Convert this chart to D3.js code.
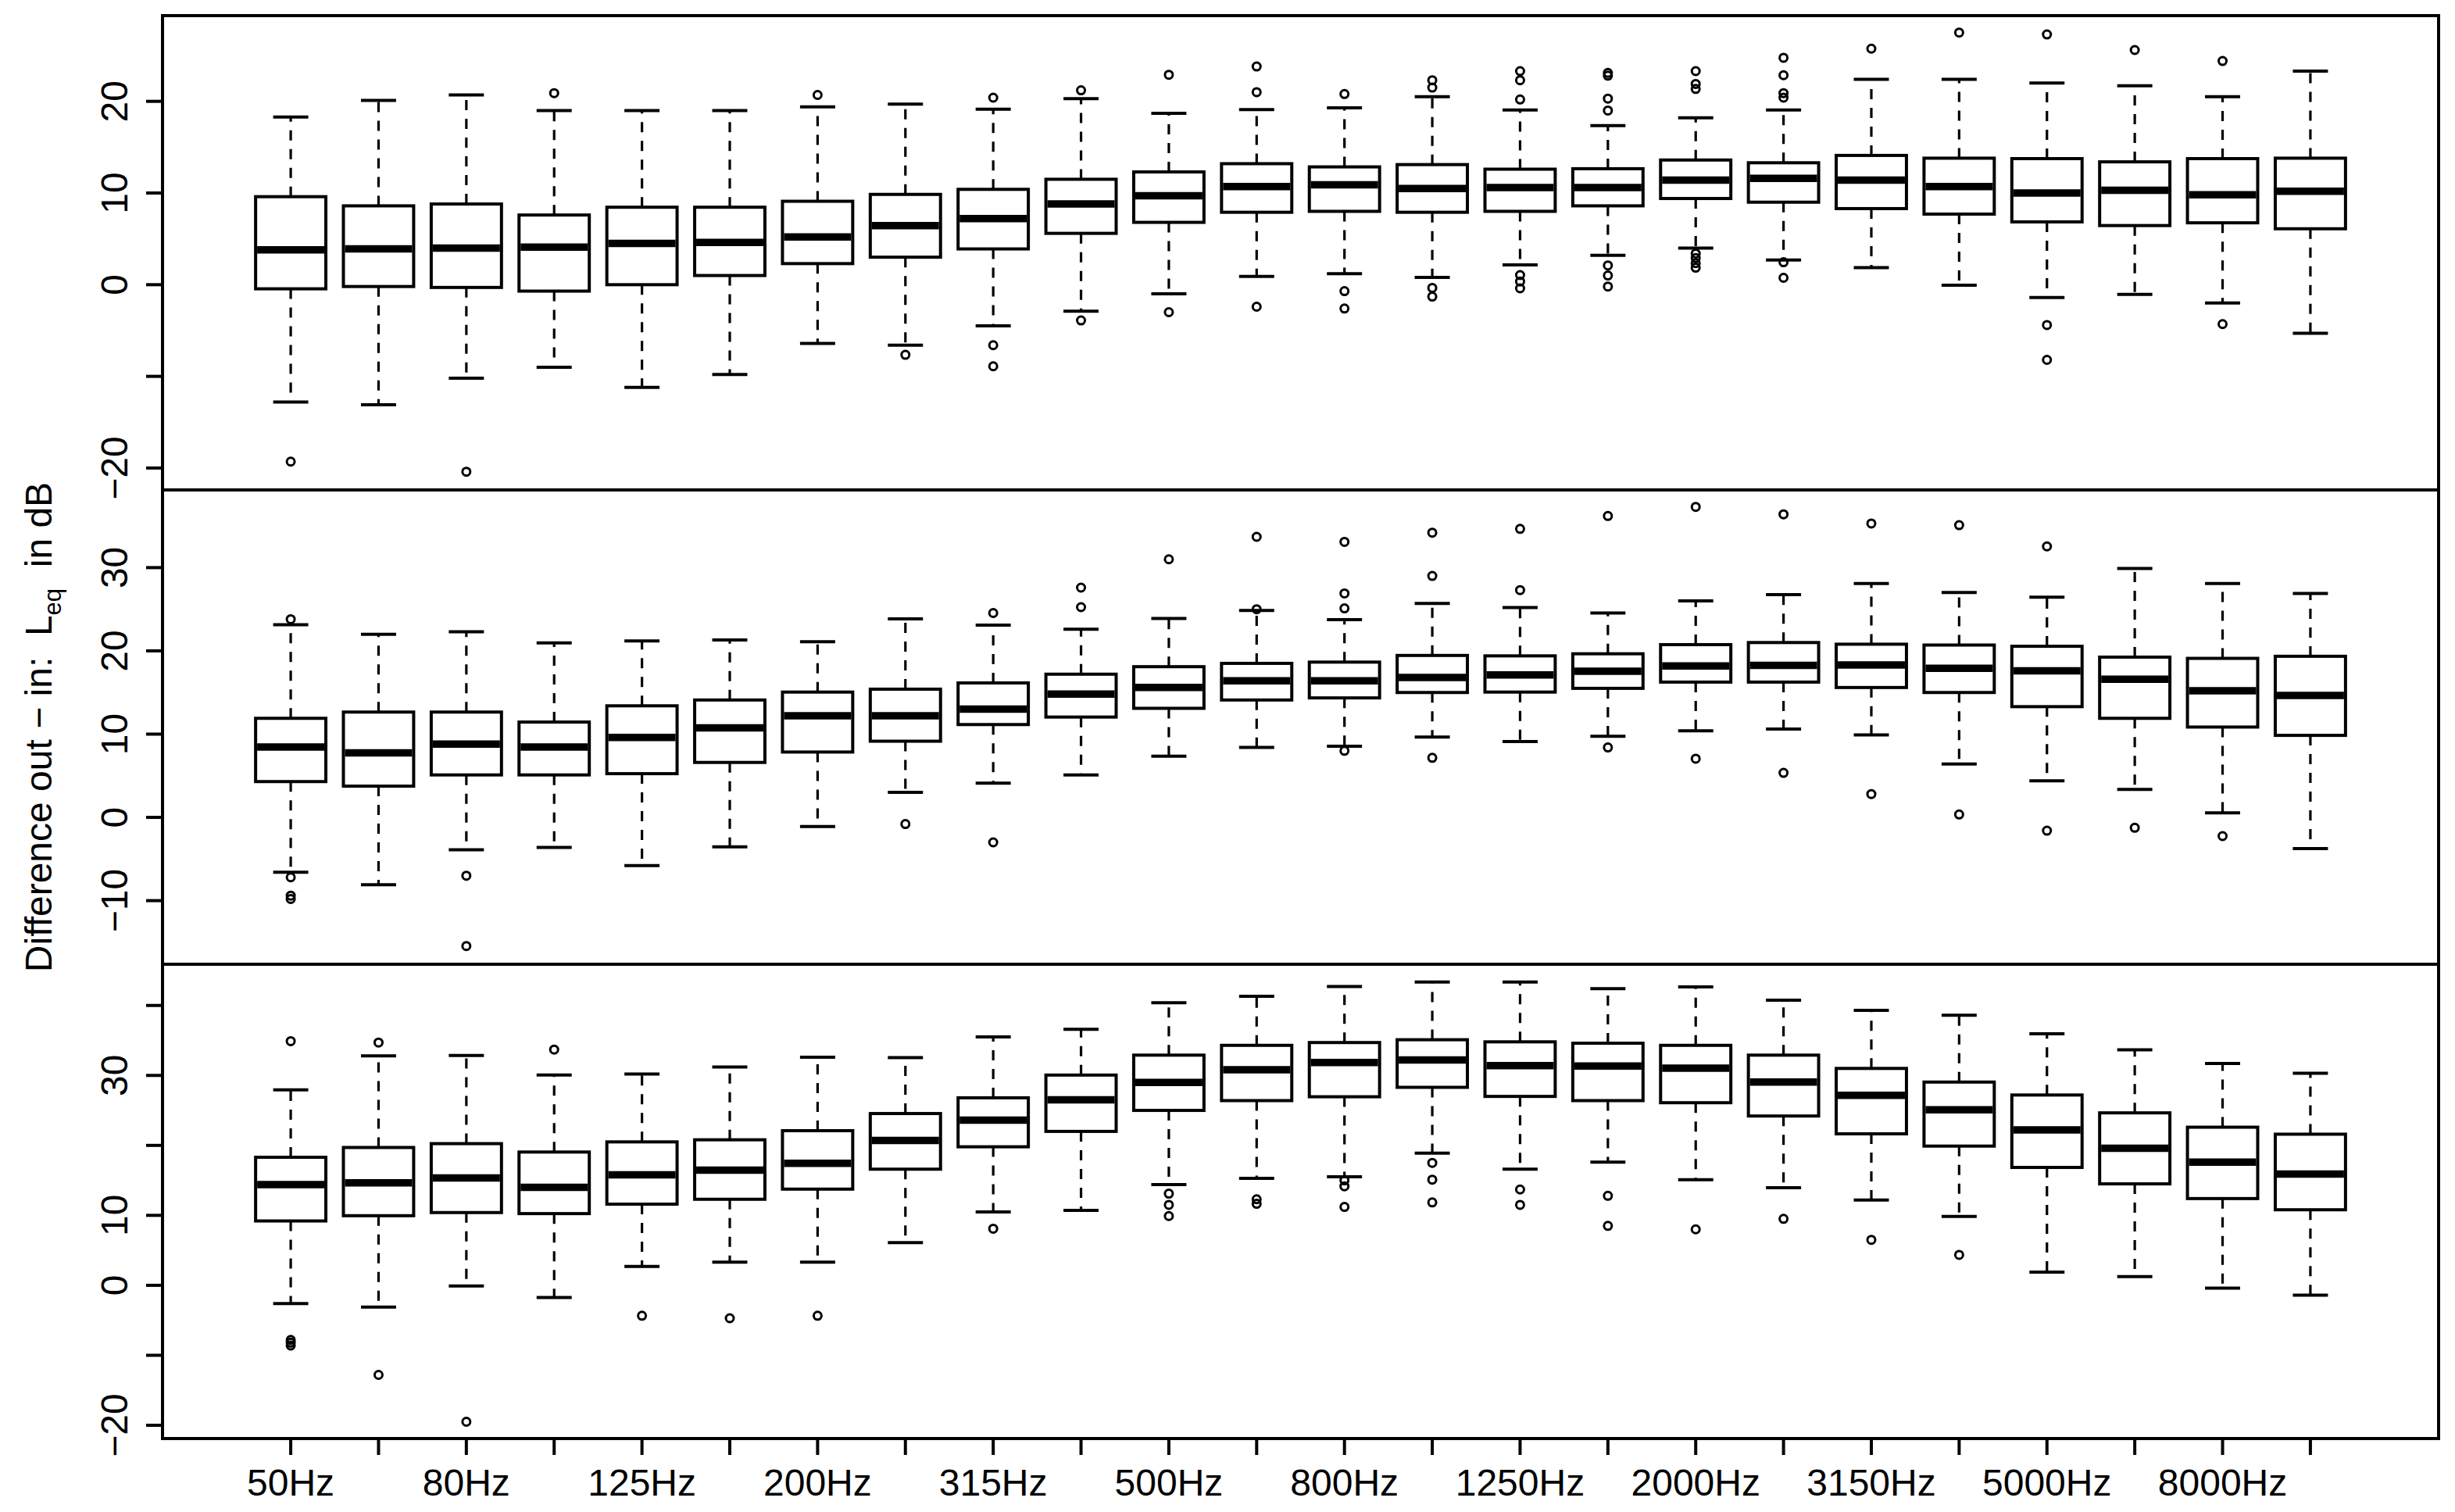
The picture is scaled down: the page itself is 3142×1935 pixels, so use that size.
<!DOCTYPE html>
<html>
<head>
<meta charset="utf-8">
<script src="https://cdn.jsdelivr.net/npm/d3@7"></script>
<style>
  html, body { margin: 0; padding: 0; background: #fff; }
  svg text { font-family: "Liberation Sans", Arial, Helvetica, sans-serif; fill: #000; }
</style>
</head>
<body>
<script>
// ---------- data ----------
const categories = ["50Hz","63Hz","80Hz","100Hz","125Hz","160Hz","200Hz","250Hz","315Hz","400Hz","500Hz","630Hz",
                    "800Hz","1000Hz","1250Hz","1600Hz","2000Hz","2500Hz","3150Hz","4000Hz","5000Hz","6300Hz","8000Hz","10000Hz"];
const xTickLabels = ["50Hz","","80Hz","","125Hz","","200Hz","","315Hz","","500Hz","","800Hz","","1250Hz","","2000Hz","","3150Hz","","5000Hz","","8000Hz",""];

// Panel 1 (top)
const lo1  = [-12.8,-13.1,-10.2,-9.0,-11.2,-9.8,-6.4,-6.6,-4.5,-2.9,-1.0,0.9,1.2,0.8,2.15,3.2,4.0,2.7,1.85,-0.05,-1.4,-1.05,-2.0,-5.3];
const q1_1 = [-0.45,-0.2,-0.3,-0.7,0.0,1.0,2.3,3.0,3.9,5.6,6.8,7.9,8.0,7.9,8.0,8.6,9.4,9.0,8.3,7.7,6.85,6.45,6.75,6.1];
const med1 = [3.8,3.9,4.0,4.1,4.5,4.6,5.2,6.45,7.2,8.8,9.7,10.7,10.9,10.5,10.6,10.6,11.4,11.6,11.4,10.7,10.0,10.3,9.8,10.2];
const q3_1 = [9.6,8.6,8.8,7.6,8.45,8.45,9.1,9.85,10.4,11.5,12.3,13.2,12.85,13.1,12.6,12.65,13.6,13.3,14.1,13.8,13.75,13.4,13.75,13.8];
const hi1  = [18.3,20.1,20.7,19.0,19.0,19.0,19.4,19.7,19.15,20.3,18.7,19.1,19.3,20.5,19.05,17.35,18.2,19.05,22.4,22.4,22.0,21.7,20.5,23.3];
const out1 = [[-19.3],[],[-20.4],[20.9],[],[],[20.7],[-7.65],[20.4,-6.6,-8.9],[21.2,-3.9],[22.9,-3.0],[23.8,21.0,-2.4],
              [20.8,-0.7,-2.6],[22.3,21.5,-0.35,-1.3],[23.3,22.3,20.2,1.05,0.35,-0.4],[23.1,22.8,20.3,19.0,2.1,1.0,-0.2],
              [23.3,21.9,21.35,3.4,2.9,2.35,1.85],[24.75,22.85,20.9,20.4,2.45,0.75],[25.75],[27.5],[27.3,-4.4,-8.2],[25.6],[24.4,-4.3],[]];

// Panel 2 (middle)
const lo2  = [-6.6,-8.1,-3.9,-3.6,-5.8,-3.55,-1.1,3.0,4.1,5.1,7.35,8.4,8.55,9.65,9.1,9.75,10.4,10.6,9.9,6.4,4.4,3.35,0.55,-3.75];
const q1_2 = [4.3,3.75,5.1,5.1,5.25,6.6,7.85,9.15,11.15,12.05,13.1,14.1,14.35,15.0,15.05,15.5,16.25,16.25,15.6,15.0,13.3,11.9,10.85,9.85];
const med2 = [8.45,7.75,8.8,8.45,9.6,10.75,12.2,12.2,13.0,14.8,15.6,16.4,16.4,16.8,17.1,17.55,18.2,18.25,18.3,17.9,17.6,16.6,15.2,14.65];
const q3_2 = [11.9,12.65,12.65,11.45,13.4,14.1,15.05,15.4,16.15,17.2,18.1,18.5,18.65,19.45,19.4,19.65,20.75,21.0,20.8,20.7,20.55,19.25,19.1,19.35];
const hi2  = [23.15,22.0,22.3,20.95,21.2,21.3,21.1,23.85,23.1,22.6,23.9,24.85,23.75,25.7,25.2,24.55,26.0,26.75,28.1,27.0,26.45,29.9,28.1,26.9];
const out2 = [[23.8,-7.2,-9.4,-9.8],[],[-7.0,-15.45],[],[],[],[],[-0.8],[24.55,-3.0],[27.6,25.25],[31.0],[33.7,25.0],
              [33.1,26.9,25.1,8.0],[34.2,29.0,7.15],[34.65,27.3],[36.2,8.4],[37.3,7.05],[36.4,5.35],[35.3,2.8],[35.1,0.35],[32.55,-1.6],[-1.25],[-2.25],[]];

// Panel 3 (bottom)
const lo3  = [-2.6,-3.1,-0.1,-1.75,2.7,3.3,3.3,6.1,10.5,10.7,14.4,15.3,15.5,18.9,16.6,17.6,15.1,13.95,12.2,9.85,1.9,1.25,-0.4,-1.4];
const q1_3 = [9.2,9.95,10.4,10.25,11.6,12.3,13.75,16.6,19.8,22.0,25.0,26.4,26.95,28.3,27.0,26.4,26.1,24.2,21.65,19.9,16.85,14.5,12.4,10.8];
const med3 = [14.4,14.65,15.35,14.0,15.8,16.45,17.45,20.7,23.6,26.5,29.0,30.8,31.85,32.2,31.4,31.35,31.05,29.05,27.15,25.1,22.2,19.6,17.6,15.9];
const q3_3 = [18.3,19.7,20.25,19.05,20.5,20.8,22.1,24.55,26.8,30.05,32.9,34.3,34.7,35.1,34.8,34.6,34.3,32.9,31.0,29.05,27.2,24.65,22.6,21.6];
const hi3  = [27.95,32.8,32.85,30.05,30.2,31.2,32.6,32.55,35.5,36.6,40.4,41.3,42.7,43.35,43.35,42.4,42.65,40.75,39.3,38.6,35.95,33.65,31.7,30.3];
const out3 = [[34.9,-7.8,-8.2,-8.6],[34.7,-12.8],[-19.5],[33.7],[-4.35],[-4.7],[-4.35],[],[8.1],[],[13.1,11.5,9.9],[12.3,11.65],
              [15.0,14.15,11.2],[17.5,15.1,11.85],[13.7,11.5],[12.8,8.5],[8.0],[9.5],[6.5],[4.35],[],[],[],[]];

// y tick values and labels per panel
const yTicks1 = [-20,-10,0,10,20];        const yLabels1 = ["\u221220","","0","10","20"];
const yTicks2 = [-10,0,10,20,30];         const yLabels2 = ["\u221210","0","10","20","30"];
const yTicks3 = [-20,-10,0,10,20,30,40];  const yLabels3 = ["\u221220","","0","10","","30",""];
const yDomain1 = [-22.39, 29.35];
const yDomain2 = [-17.64, 39.33];
const yDomain3 = [-21.9, 45.89];

// ---------- layout ----------
const W = 3142, H = 1935;
const left = 208, right = 3121;
const panelTops = [20, 627, 1234];
const panelH = 607;
const LW = 4;

const svg = d3.select("body").append("svg").attr("width", W).attr("height", H);

const n = categories.length;
const x = d3.scaleLinear().domain([0.5 - 0.04 * n, n + 0.5 + 0.04 * n]).range([left, right]);
const step = x(1) - x(0);
const bw = 0.8 * step;

const panels = [
  {lo: lo1, q1: q1_1, med: med1, q3: q3_1, hi: hi1, out: out1, ticks: yTicks1, labels: yLabels1, dom: yDomain1},
  {lo: lo2, q1: q1_2, med: med2, q3: q3_2, hi: hi2, out: out2, ticks: yTicks2, labels: yLabels2, dom: yDomain2},
  {lo: lo3, q1: q1_3, med: med3, q3: q3_3, hi: hi3, out: out3, ticks: yTicks3, labels: yLabels3, dom: yDomain3}
];

panels.forEach((p, pi) => {
  const top = panelTops[pi];
  const y = d3.scaleLinear().domain(p.dom).range([top + panelH, top]);
  const g = svg.append("g");
  const rows = categories.map((c, i) => ({i: i + 1, lo: p.lo[i], q1: p.q1[i], med: p.med[i], q3: p.q3[i], hi: p.hi[i], out: p.out[i]}));

  // whiskers (dashed)
  g.selectAll(".wu").data(rows).enter().append("line")
    .attr("x1", d => x(d.i)).attr("x2", d => x(d.i))
    .attr("y1", d => y(d.q3)).attr("y2", d => y(d.hi))
    .attr("stroke", "#000").attr("stroke-width", 3.2).attr("stroke-dasharray", "13,11");
  g.selectAll(".wl").data(rows).enter().append("line")
    .attr("x1", d => x(d.i)).attr("x2", d => x(d.i))
    .attr("y1", d => y(d.q1)).attr("y2", d => y(d.lo))
    .attr("stroke", "#000").attr("stroke-width", 3.2).attr("stroke-dasharray", "13,11");
  // staples
  ["hi", "lo"].forEach(k => {
    g.selectAll(".st" + k).data(rows).enter().append("line")
      .attr("x1", d => x(d.i) - bw / 4).attr("x2", d => x(d.i) + bw / 4)
      .attr("y1", d => y(d[k])).attr("y2", d => y(d[k]))
      .attr("stroke", "#000").attr("stroke-width", LW);
  });
  // boxes
  g.selectAll(".box").data(rows).enter().append("rect")
    .attr("x", d => x(d.i) - bw / 2).attr("width", bw)
    .attr("y", d => y(d.q3)).attr("height", d => y(d.q1) - y(d.q3))
    .attr("fill", "#fff").attr("stroke", "#000").attr("stroke-width", LW);
  // medians
  g.selectAll(".med").data(rows).enter().append("line")
    .attr("x1", d => x(d.i) - bw / 2 + 2).attr("x2", d => x(d.i) + bw / 2 - 2)
    .attr("y1", d => y(d.med)).attr("y2", d => y(d.med))
    .attr("stroke", "#000").attr("stroke-width", 9.5);
  // outliers
  const pts = [];
  rows.forEach(r => r.out.forEach(v => pts.push({i: r.i, v})));
  g.selectAll(".out").data(pts).enter().append("circle")
    .attr("cx", d => x(d.i)).attr("cy", d => y(d.v)).attr("r", 5)
    .attr("fill", "none").attr("stroke", "#000").attr("stroke-width", 3);

  // frame
  svg.append("rect").attr("x", left).attr("y", top).attr("width", right - left).attr("height", panelH)
    .attr("fill", "none").attr("stroke", "#000").attr("stroke-width", LW);

  // y axis
  const ya = svg.append("g");
  ya.selectAll(".yt").data(p.ticks).enter().append("line")
    .attr("x1", left - 21).attr("x2", left).attr("y1", d => y(d)).attr("y2", d => y(d))
    .attr("stroke", "#000").attr("stroke-width", LW);
  ya.selectAll(".yl").data(p.ticks).enter().append("text")
    .attr("transform", d => `translate(163,${y(d)}) rotate(-90)`)
    .attr("text-anchor", "middle").attr("font-size", 48)
    .text((d, k) => p.labels[k]);
});

// x axis (bottom)
const xAxisY = panelTops[2] + panelH;
const xg = svg.append("g");
xg.selectAll(".xt").data(categories).enter().append("line")
  .attr("x1", (d, i) => x(i + 1)).attr("x2", (d, i) => x(i + 1))
  .attr("y1", xAxisY).attr("y2", xAxisY + 21)
  .attr("stroke", "#000").attr("stroke-width", LW);
xg.selectAll(".xl").data(xTickLabels).enter().append("text")
  .attr("x", (d, i) => x(i + 1)).attr("y", 1914)
  .attr("text-anchor", "middle").attr("font-size", 48)
  .text(d => d);

// y title
const yt = svg.append("text")
  .attr("transform", `translate(66,${panelTops[1] + panelH / 2}) rotate(-90)`)
  .attr("text-anchor", "middle").attr("font-size", 48)
  .style("white-space", "pre");
yt.append("tspan").text("Difference out \u2212 in:  L");
yt.append("tspan").attr("font-size", 31).attr("dy", 12).text("eq");
yt.append("tspan").attr("dy", -12).text("  in dB");
</script>
</body>
</html>
